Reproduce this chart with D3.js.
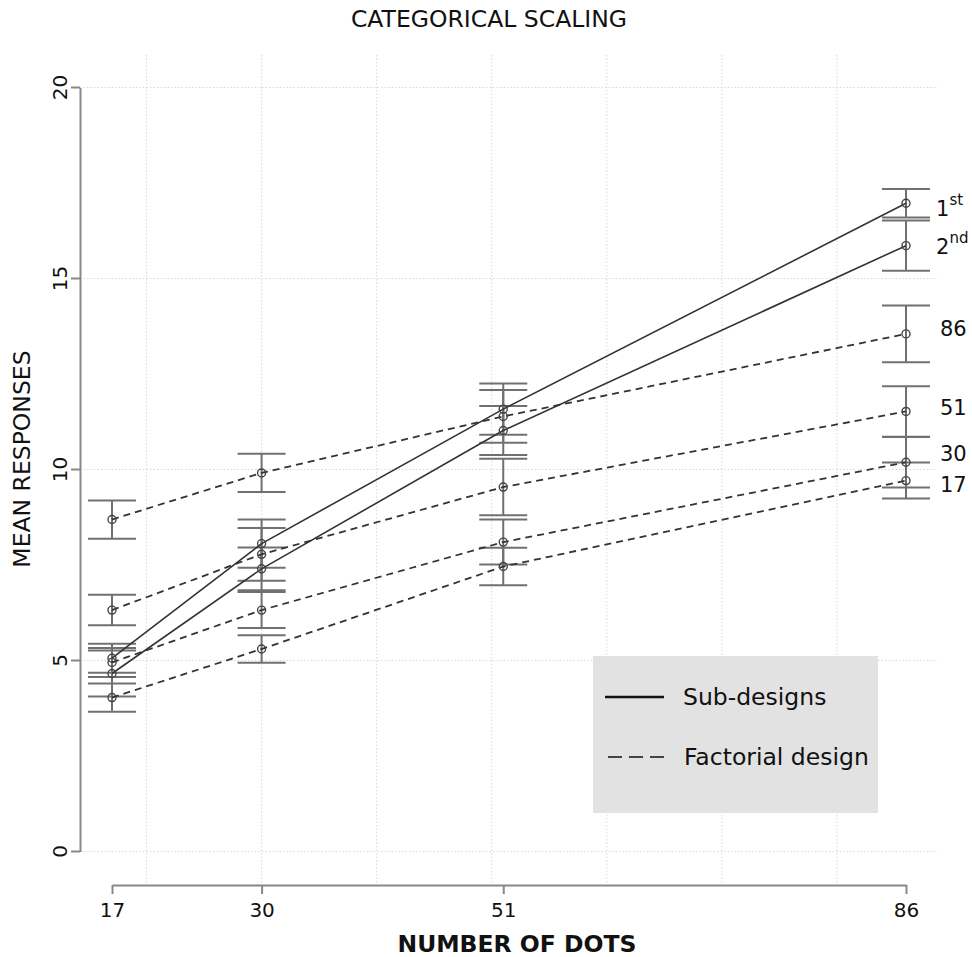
<!DOCTYPE html>
<html>
<head>
<meta charset="utf-8">
<script src="https://cdn.jsdelivr.net/npm/d3@7"></script>
<style>
  body { margin: 0; background: #fff; }
  text { font-family: "DejaVu Sans", sans-serif; }
</style>
</head>
<body>
<div id="chart"></div>
<script>
// dots shown, x positions
var dots = [17, 30, 51, 86];
var xTicks = [17, 30, 51, 86];
var yTicks = [0, 5, 10, 15, 20];
var xGrid = [20, 30, 40, 50, 60, 70, 80];

// series: sub-designs (solid) then factorial design (dashed)
var seriesNames = ["1st", "2nd", "86", "51", "30", "17"];
var seriesSolid = [true, true, false, false, false, false];

var first   = [5.06, 8.06, 11.58, 16.97];
var second  = [4.66, 7.40, 11.02, 15.86];
var f86     = [8.69, 9.91, 11.39, 13.55];
var f51     = [6.32, 7.78, 9.54, 11.52];
var f30     = [4.95, 6.32, 8.10, 10.19];
var f17     = [4.03, 5.30, 7.46, 9.71];

// half widths of the error bars
var firstErr  = [0.38, 0.63, 0.67, 0.37];
var secondErr = [0.60, 0.56, 0.64, 0.66];
var f86Err    = [0.50, 0.50, 0.69, 0.74];
var f51Err    = [0.40, 0.69, 0.74, 0.66];
var f30Err    = [0.38, 0.47, 0.59, 0.66];
var f17Err    = [0.37, 0.36, 0.49, 0.47];

var means = [first, second, f86, f51, f30, f17];
var errs = [firstErr, secondErr, f86Err, f51Err, f30Err, f17Err];

var width = 972, height = 957;

var svg = d3.select("#chart").append("svg")
    .attr("width", width)
    .attr("height", height);

var x = d3.scaleLinear().domain([17, 86]).range([112, 906]);
var y = d3.scaleLinear().domain([0, 20]).range([851.5, 87.5]);

// grid
svg.append("g").selectAll("line")
    .data(xGrid).enter().append("line")
    .attr("x1", d => x(d)).attr("x2", d => x(d))
    .attr("y1", 55).attr("y2", 884)
    .attr("stroke", "#d8d8d8").attr("stroke-width", 1)
    .attr("stroke-dasharray", "1.5,2");

svg.append("g").selectAll("line")
    .data(yTicks).enter().append("line")
    .attr("x1", 80).attr("x2", 938)
    .attr("y1", d => y(d)).attr("y2", d => y(d))
    .attr("stroke", "#d8d8d8").attr("stroke-width", 1)
    .attr("stroke-dasharray", "1.5,2");

// legend box (drawn under the data)
var legend = svg.append("g");
legend.append("rect")
    .attr("x", 593).attr("y", 656)
    .attr("width", 285).attr("height", 157)
    .attr("fill", "#e2e2e2");

// axes
var yAxis = svg.append("g")
    .attr("transform", "translate(80,0)")
    .call(d3.axisLeft(y).tickValues(yTicks).tickSize(9).tickSizeOuter(0));
yAxis.select(".domain").attr("stroke", "#888").attr("stroke-width", 2);
yAxis.selectAll(".tick").attr("transform", null);
yAxis.selectAll(".tick line")
    .attr("stroke", "#888").attr("stroke-width", 2)
    .attr("y1", function (d) { return y(d); })
    .attr("y2", function (d) { return y(d); });
yAxis.selectAll(".tick text")
    .attr("font-size", 20)
    .attr("fill", "#111")
    .attr("text-anchor", "middle")
    .attr("transform", "rotate(-90)")
    .attr("x", function (d) { return -y(d); })
    .attr("y", -13)
    .attr("dy", 0);

var xAxis = svg.append("g")
    .attr("transform", "translate(0,885)")
    .call(d3.axisBottom(x).tickValues(xTicks).tickSize(9).tickSizeOuter(0));
xAxis.select(".domain").attr("stroke", "#888").attr("stroke-width", 2);
xAxis.selectAll(".tick line").attr("stroke", "#888").attr("stroke-width", 2);
xAxis.selectAll(".tick text")
    .attr("font-size", 20)
    .attr("fill", "#111")
    .attr("y", 18);

// titles
svg.append("text")
    .attr("x", 489).attr("y", 27)
    .attr("text-anchor", "middle")
    .attr("font-size", 23.5)
    .attr("fill", "#111")
    .text("CATEGORICAL SCALING");

svg.append("text")
    .attr("x", 517).attr("y", 952)
    .attr("text-anchor", "middle")
    .attr("font-size", 23.5)
    .attr("font-weight", "bold")
    .attr("fill", "#111")
    .text("NUMBER OF DOTS");

svg.append("text")
    .attr("transform", "translate(30,459) rotate(-90)")
    .attr("text-anchor", "middle")
    .attr("font-size", 23.5)
    .attr("fill", "#111")
    .text("MEAN RESPONSES");

// error bars
var capHalf = 24;
var bars = svg.append("g");
means.forEach(function (m, i) {
    m.forEach(function (v, j) {
        var e = errs[i][j];
        var cx = x(dots[j]);
        bars.append("line")
            .attr("x1", cx).attr("x2", cx)
            .attr("y1", y(v + e)).attr("y2", y(v - e))
            .attr("stroke", "#707070").attr("stroke-width", 2);
        [v + e, v - e].forEach(function (b) {
            bars.append("line")
                .attr("x1", cx - capHalf).attr("x2", cx + capHalf)
                .attr("y1", y(b)).attr("y2", y(b))
                .attr("stroke", "#707070").attr("stroke-width", 2);
        });
    });
});

// lines and points
var line = d3.line()
    .x(function (d, j) { return x(dots[j]); })
    .y(function (d) { return y(d); });

means.forEach(function (m, i) {
    svg.append("path")
        .datum(m)
        .attr("d", line)
        .attr("fill", "none")
        .attr("stroke", "#333")
        .attr("stroke-width", seriesSolid[i] ? 1.6 : 1.8)
        .attr("stroke-dasharray", seriesSolid[i] ? null : "7,5");

    svg.append("g").selectAll("circle")
        .data(m).enter().append("circle")
        .attr("cx", function (d, j) { return x(dots[j]); })
        .attr("cy", function (d) { return y(d); })
        .attr("r", 4)
        .attr("fill", "none")
        .attr("stroke", "#444")
        .attr("stroke-width", 1.4);
});

// series labels at the right end
var labelNudge = [5, 1, -5, -4, -9, 4];
means.forEach(function (m, i) {
    var name = seriesNames[i];
    var t = svg.append("text")
        .attr("x", seriesSolid[i] ? 936 : 940)
        .attr("y", y(m[m.length - 1]) + labelNudge[i])
        .attr("dy", "0.35em")
        .attr("font-size", 21)
        .attr("fill", "#111");
    if (seriesSolid[i]) {
        t.append("tspan").text(name.charAt(0));
        t.append("tspan")
            .attr("font-size", 15)
            .attr("dy", "-0.7em")
            .text(name.slice(1));
    } else {
        t.text(name);
    }
});

// legend entries
legend.append("line")
    .attr("x1", 605).attr("x2", 664)
    .attr("y1", 697).attr("y2", 697)
    .attr("stroke", "#111").attr("stroke-width", 2.5);
legend.append("text")
    .attr("x", 683).attr("y", 705)
    .attr("font-size", 23.5).attr("fill", "#111")
    .text("Sub-designs");
legend.append("line")
    .attr("x1", 608).attr("x2", 664)
    .attr("y1", 757).attr("y2", 757)
    .attr("stroke", "#111").attr("stroke-width", 1.5)
    .attr("stroke-dasharray", "14,7");
legend.append("text")
    .attr("x", 684).attr("y", 765)
    .attr("font-size", 23.5).attr("fill", "#111")
    .text("Factorial design");
</script>
</body>
</html>
